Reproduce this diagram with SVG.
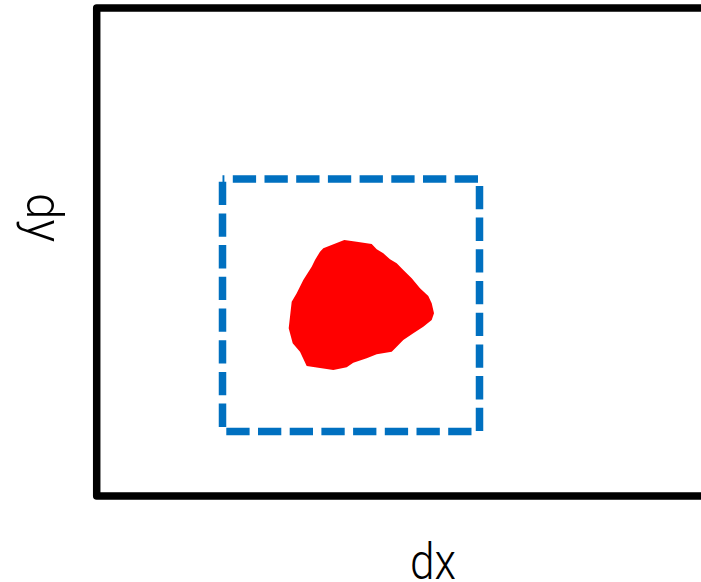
<svg xmlns="http://www.w3.org/2000/svg" width="701" height="582" viewBox="0 0 701 582">
  <style>
    .frame { fill: none; stroke: #000; stroke-width: 7.5; stroke-linejoin: round; }
    .window { fill: none; stroke: #0070C0; stroke-width: 7.5; stroke-dasharray: 23.3 8.4; }
    .blob { fill: #FF0000; stroke: none; }
    .axis { font-family: Roboto, "Liberation Sans", Arial, sans-serif; font-weight: 300; font-size: 50px; fill: #000; }
  </style>
  <rect width="701" height="582" fill="#fff"/>
  <g id="frame">
    <rect class="frame" x="96.7" y="8" width="700" height="488"/>
  </g>
  <g id="window">
    <path class="window" d="M222.5,179 V431.5 H479.5 V179 Z" stroke-dashoffset="-2.7"/>
  </g>
  <g id="blob">
    <path class="blob" d="M344.3,240 L356.7,241.7 L371.7,244 L376.7,249.3 L383.3,253.3 L390,259.3 L396.7,263.3 L403.3,270 L411.7,278.3 L420,288.3 L428.3,296 L431.7,303.3 L434,313.3 L431.7,320 L423.3,326.7 L413.3,333.3 L403.3,340 L396.7,346.7 L391.7,351.7 L376.7,354.3 L366.7,358.3 L353.3,362.7 L346.7,367.3 L333.3,370 L306.7,366 L300,351.7 L292.7,343.3 L288.7,328.3 L290,316.7 L291.7,301.7 L296.7,293.3 L303.3,280 L311.7,266.7 L315,260 L320,251.7 L323.3,248.3 Z"/>
  </g>
  <g id="labels">
    <text class="axis" x="410" y="579" textLength="46" lengthAdjust="spacingAndGlyphs">dx</text>
    <text class="axis" transform="translate(27,193) rotate(90)" x="0" y="0" font-size="46" textLength="49" lengthAdjust="spacingAndGlyphs">dy</text>
  </g>
</svg>
